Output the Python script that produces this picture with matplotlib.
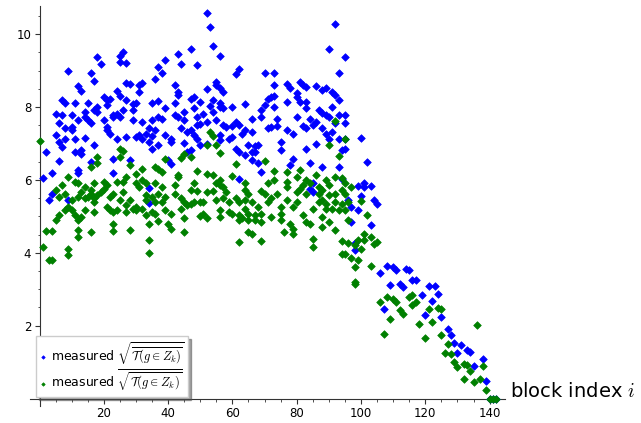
import matplotlib
matplotlib.use("Agg")
import matplotlib.pyplot as plt
import matplotlib.transforms as mtransforms
from matplotlib.ticker import FixedLocator, MultipleLocator

plt.rcParams['mathtext.fontset'] = 'cm'
plt.rcParams['font.family'] = ['DejaVu Sans']

# ---------------- data (block index, value) ----------------
blue_x = [
    26, 25, 18, 19, 25, 27, 9, 16, 17, 12, 13, 27, 28, 31, 32, 24, 25, 27, 7, 8,
    11, 15, 20, 21, 22, 18, 17, 21, 26, 29, 30, 5, 6, 7, 10, 12, 14, 14, 15, 16,
    18, 20, 21, 23, 23, 24, 25, 29, 29, 32, 8, 10, 10, 5, 6, 7, 8, 11, 14, 17,
    21, 22, 24, 27, 30, 31, 32, 33, 2, 11, 13, 13, 16, 6, 23, 28, 4, 12, 12, 23,
    1, 4, 3, 9,
    52, 53, 54, 47, 43, 39, 44, 49, 56, 37, 38, 36, 31, 42, 43, 43, 55, 55, 52, 56,
    57, 62, 61, 48, 47, 50, 54, 56, 56, 57, 60, 53, 35, 37, 39, 42, 45, 48, 51, 49,
    54, 55, 35, 37, 38, 42, 43, 45, 52, 49, 50, 57, 58, 61, 60, 62, 34, 36, 35, 39,
    41, 44, 46, 47, 48, 49, 56, 56, 59, 60, 63, 34, 37, 41, 45, 50, 52, 35, 47, 46,
    61, 62, 40, 41, 62, 34, 34,
    92, 90, 95, 93, 70, 73, 73, 77, 78, 81, 82, 83, 86, 88, 89, 91, 92, 73, 72, 71,
    80, 80, 64, 70, 73, 77, 81, 83, 93, 69, 83, 87, 89, 91, 93, 95, 66, 69, 74, 80,
    84, 86, 88, 90, 92, 95, 72, 71, 74, 77, 79, 82, 83, 85, 88, 89, 91, 64, 66, 93,
    95, 90, 75, 86, 83, 65, 67, 68, 66, 67, 75, 64, 66, 68, 94, 95, 79, 78, 84, 88,
    93, 69, 85, 84, 85,
    100, 102, 94, 99, 101, 101, 103, 100, 96, 97, 99, 104, 105, 97, 103, 98, 98, 108, 110, 111,
    106, 114, 115, 109, 112, 113, 116, 117, 121, 123, 119, 124, 122, 107, 120, 125, 127, 128, 129, 131,
    130, 133, 134, 138, 135, 139, 140, 141, 142,
]
blue_y = [
    9.51, 9.40, 9.36, 9.18, 9.22, 9.21, 8.99, 8.92, 8.71, 8.57, 8.43, 8.67, 8.63, 8.60, 8.65, 8.44, 8.30, 8.19, 8.19, 8.11,
    8.10, 8.12, 8.26, 8.19, 8.23, 8.00, 7.93, 8.05, 7.91, 8.08, 8.11, 7.82, 7.55, 7.77, 7.77, 7.64, 7.87, 7.73, 7.64, 7.55,
    7.87, 7.64, 7.45, 7.73, 7.77, 7.82, 7.73, 7.91, 7.64, 7.59, 7.41, 7.45, 7.36, 7.23, 7.04, 6.90, 7.13, 7.13, 7.16, 6.95,
    7.36, 7.27, 7.13, 7.18, 7.18, 7.23, 7.13, 7.27, 6.77, 6.77, 6.72, 6.81, 6.49, 6.52, 6.56, 6.54, 6.19, 6.26, 6.19, 6.19,
    6.06, 5.62, 5.44, 5.46,
    10.57, 10.18, 9.67, 9.58, 9.45, 9.30, 9.17, 9.14, 9.40, 9.10, 8.92, 8.78, 8.42, 8.60, 8.42, 8.32, 8.69, 8.60, 8.48, 8.51,
    8.42, 9.03, 8.90, 8.28, 8.23, 8.14, 8.19, 8.10, 7.99, 7.96, 7.99, 8.02, 8.11, 8.17, 7.96, 8.11, 7.87, 7.96, 7.82, 7.73,
    7.87, 7.64, 7.64, 7.73, 7.68, 7.77, 7.73, 7.64, 7.59, 7.50, 7.53, 7.50, 7.45, 7.59, 7.47, 7.50, 7.41, 7.36, 7.20, 7.23,
    7.13, 7.41, 7.32, 7.36, 7.23, 7.13, 7.23, 7.09, 7.13, 7.18, 7.27, 7.04, 6.95, 7.04, 7.01, 6.95, 6.98, 6.86, 6.81, 6.77,
    6.86, 6.77, 6.54, 6.43, 6.01, 5.79, 5.37,
    10.27, 9.58, 9.38, 8.94, 8.94, 8.92, 8.60, 8.63, 8.51, 8.69, 8.60, 8.55, 8.57, 8.46, 8.51, 8.42, 8.33, 8.30, 8.28, 8.23,
    8.37, 8.28, 8.08, 8.05, 7.99, 8.14, 8.14, 8.14, 8.19, 7.93, 7.96, 7.93, 7.77, 7.99, 7.77, 7.77, 7.66, 7.73, 7.68, 7.73,
    7.68, 7.59, 7.84, 7.73, 7.55, 7.55, 7.45, 7.41, 7.47, 7.36, 7.27, 7.47, 7.41, 7.50, 7.41, 7.27, 7.32, 7.36, 7.32, 7.13,
    7.13, 7.13, 7.04, 6.99, 6.86, 6.95, 6.92, 6.95, 6.77, 6.77, 6.81, 6.68, 6.54, 6.45, 6.81, 6.86, 6.56, 6.40, 6.45, 6.36,
    6.36, 6.22, 5.90, 5.76, 5.67,
    7.14, 6.49, 6.01, 5.82, 5.92, 5.81, 5.82, 5.55, 5.44, 5.26, 5.18, 5.44, 5.35, 4.84, 4.75, 4.27, 4.08, 3.65, 3.61, 3.53,
    3.44, 3.56, 3.53, 3.12, 3.15, 3.06, 3.24, 3.24, 3.10, 3.10, 2.85, 2.86, 2.69, 2.46, 2.28, 2.23, 1.91, 1.73, 1.52, 1.46,
    1.26, 1.34, 1.27, 1.09, 0.88, 0.49, 0.0, 0.0, 0.0,
]

green_x = [
    0, 25, 26, 25, 18, 16, 18, 28, 30, 32, 9, 11, 12, 14, 16, 16, 17, 20, 21, 19,
    20, 24, 26, 27, 30, 31, 32, 33, 5, 6, 7, 8, 10, 12, 13, 14, 15, 17, 17, 18,
    22, 23, 25, 26, 27, 28, 30, 32, 33, 9, 10, 8, 6, 5, 11, 12, 13, 14, 17, 21,
    22, 23, 24, 27, 29, 30, 33, 2, 4, 12, 16, 23, 23, 28, 12, 1, 9, 9, 3, 4,
    53, 54, 55, 52, 45, 44, 47, 56, 39, 61, 36, 37, 38, 49, 52, 54, 43, 43, 56, 55,
    60, 36, 38, 42, 48, 56, 57, 47, 52, 54, 58, 64, 65, 33, 35, 37, 39, 42, 44, 49,
    36, 38, 45, 47, 48, 50, 51, 55, 57, 59, 61, 62, 35, 39, 41, 44, 46, 56, 59, 60,
    62, 36, 45, 50, 51, 52, 56, 62, 63, 34, 37, 40, 41, 45, 34, 62, 34,
    92, 95, 90, 93, 70, 73, 77, 81, 86, 80, 73, 83, 77, 89, 92, 94, 64, 71, 77, 82,
    84, 87, 90, 95, 97, 69, 70, 72, 74, 80, 81, 83, 87, 88, 90, 92, 94, 64, 66, 71,
    77, 80, 87, 88, 89, 92, 94, 96, 64, 68, 75, 79, 85, 89, 91, 93, 65, 67, 69, 72,
    75, 82, 88, 65, 67, 69, 75, 78, 83, 84, 90, 96, 65, 66, 76, 79, 79, 88, 92, 69,
    85, 85, 94, 96, 94, 95, 97, 98,
    95, 100, 95, 102, 99, 101, 101, 103, 104, 105, 98, 100, 99, 103, 98, 98, 106, 108, 110, 111,
    112, 113, 115, 116, 116, 117, 121, 124, 125, 122, 118, 109, 107, 120, 125, 127, 126, 128, 129, 130,
    132, 133, 134, 132, 135, 137, 138, 139, 136, 140, 141, 142,
]
green_y = [
    7.07, 6.86, 6.80, 6.63, 6.63, 6.36, 6.45, 6.40, 6.17, 6.31, 6.08, 5.94, 5.90, 5.81, 5.71, 5.62, 5.92, 5.94, 5.85, 5.67,
    5.76, 5.94, 5.94, 6.08, 5.90, 5.81, 5.99, 5.90, 5.71, 5.53, 5.85, 5.62, 5.44, 5.53, 5.67, 5.49, 5.53, 5.49, 5.39, 5.58,
    5.53, 5.62, 5.44, 5.67, 5.30, 5.44, 5.26, 5.21, 5.44, 5.26, 5.17, 5.17, 5.03, 4.89, 5.03, 4.89, 4.98, 5.17, 5.12, 5.26,
    5.17, 5.12, 5.17, 5.12, 5.21, 5.17, 5.03, 4.60, 4.60, 4.62, 4.57, 4.80, 4.60, 4.63, 4.43, 4.16, 4.11, 3.93, 3.81, 3.81,
    7.32, 7.20, 6.95, 6.95, 6.72, 6.61, 6.63, 6.74, 6.58, 6.43, 6.36, 6.31, 6.22, 6.25, 6.17, 6.13, 6.13, 6.08, 5.99, 5.90,
    6.10, 5.90, 5.81, 5.85, 5.90, 5.85, 5.81, 5.71, 5.67, 5.70, 5.67, 5.71, 5.62, 5.58, 5.53, 5.62, 5.53, 5.62, 5.49, 5.70,
    5.39, 5.39, 5.39, 5.35, 5.39, 5.39, 5.39, 5.44, 5.49, 5.39, 5.49, 5.39, 5.12, 5.17, 5.07, 5.21, 5.30, 5.17, 5.12, 5.07,
    5.03, 5.07, 4.94, 5.00, 5.07, 4.94, 4.98, 4.91, 4.94, 4.80, 4.87, 4.80, 4.66, 4.57, 4.34, 4.29, 3.99,
    7.62, 7.11, 6.95, 6.65, 6.52, 6.25, 6.22, 6.28, 6.13, 6.08, 5.99, 5.99, 5.94, 5.99, 6.08, 6.04, 5.90, 5.90, 5.81, 5.85,
    5.90, 5.81, 5.85, 5.90, 5.81, 5.70, 5.62, 5.49, 5.62, 5.67, 5.76, 5.62, 5.62, 5.71, 5.58, 5.62, 5.71, 5.44, 5.39, 5.39,
    5.44, 5.39, 5.39, 5.44, 5.35, 5.39, 5.35, 5.39, 5.21, 5.26, 5.26, 5.26, 5.21, 5.21, 5.21, 5.17, 5.07, 5.03, 5.07, 4.98,
    5.07, 5.03, 4.98, 4.89, 4.89, 4.84, 4.89, 4.80, 4.84, 4.78, 4.84, 4.89, 4.57, 4.52, 4.57, 4.66, 4.52, 4.71, 4.62, 4.32,
    4.39, 4.16, 4.32, 4.27, 3.97, 3.97, 3.86, 3.62,
    5.62, 5.42, 5.18, 5.03, 4.34, 4.52, 4.34, 4.43, 4.25, 4.30, 4.20, 4.11, 3.79, 3.63, 3.20, 3.15, 2.66, 2.78, 2.74, 2.65,
    2.42, 2.33, 2.78, 2.83, 2.58, 2.65, 2.46, 2.49, 2.46, 2.10, 2.05, 2.19, 1.76, 1.67, 1.73, 1.50, 1.24, 1.21, 1.00, 0.86,
    0.95, 0.91, 0.75, 0.54, 0.45, 0.54, 0.88, 0.24, 2.02, 0.0, 0.0, 0.0,
]

blue_label = r'measured $\sqrt{\overline{\mathcal{T}(g\in Z_k)}}$'
green_label = r'measured $\overline{\sqrt{\mathcal{T}(g\in Z_k)}}$'
x_ticks = [20, 40, 60, 80, 100, 120, 140]
y_ticks = [2, 4, 6, 8, 10]
x_label = r'block index $i$'

# ---------------- figure ----------------
fig = plt.figure(figsize=(6.41, 4.23), dpi=100)
ax = fig.add_axes([0.0474, 0.0397, 0.7407, 0.947])

ax.scatter(blue_x, blue_y, marker='D', s=15, c='#0000ff', edgecolors='#0000ff',
           linewidths=0.5, zorder=3, label=blue_label)
ax.scatter(green_x, green_y, marker='D', s=15, c='#008000', edgecolors='#008000',
           linewidths=0.5, zorder=4, label=green_label)

ax.set_xlim(-2.84, 144.84)
ax.set_ylim(-0.21, 10.78)

for side in ['top', 'right']:
    ax.spines[side].set_visible(False)
ax.spines['left'].set_position(('data', 0))
ax.spines['bottom'].set_position(('data', 0))
for side in ['left', 'bottom']:
    ax.spines[side].set_linewidth(0.8)
    ax.spines[side].set_color('#333333')

ax.xaxis.set_major_locator(FixedLocator(x_ticks))
ax.xaxis.set_minor_locator(MultipleLocator(5))
ax.yaxis.set_major_locator(FixedLocator(y_ticks))
ax.yaxis.set_minor_locator(MultipleLocator(0.5))
ax.tick_params(which='major', direction='out', length=3.5, width=0.8,
               labelsize=8.5, color='#333333', pad=2.5)
ax.tick_params(which='minor', direction='out', length=1.8, width=0.6, color='#333333')

trans = mtransforms.blended_transform_factory(ax.transAxes, ax.transData)
ax.text(1.0105, 0.05, x_label, transform=trans, fontsize=14,
        ha='left', va='baseline')

leg = ax.legend(loc='lower left', bbox_to_anchor=(0.0118, 0.023), borderaxespad=0,
                fontsize=9, handlelength=0.5, handletextpad=0.4, markerscale=0.45,
                shadow=True, fancybox=False, framealpha=1, edgecolor='#cccccc',
                borderpad=0.3, labelspacing=0.1, scatterpoints=1)
leg.set_zorder(10)

fig.savefig('out.png', dpi=100)
